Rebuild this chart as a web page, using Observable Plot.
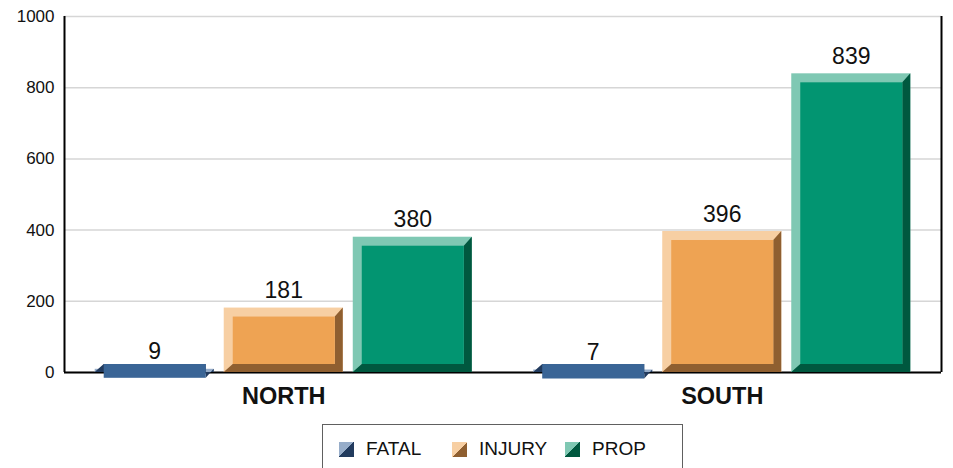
<!DOCTYPE html>
<html>
<head>
<meta charset="utf-8">
<script src="https://cdn.jsdelivr.net/npm/d3@7"></script>
<script src="https://cdn.jsdelivr.net/npm/@observablehq/plot@0.6"></script>
<style>
  html, body { margin: 0; padding: 0; background: #fff; }
  body { width: 953px; height: 468px; overflow: hidden; font-family: "Liberation Sans", Arial, sans-serif; }
  #legendWrap { display: flex; justify-content: center; padding-left: 64px; padding-right: 12px; margin-top: 6px; }
  .legend { border: 1px solid #606060; display: flex; padding: 13px 4px 14px 16px; }
  .item { width: 113px; display: flex; align-items: center; font-size: 19px; color: #111; }
  .sw { width: 15px; height: 15px; margin-right: 12px; flex: none; }
</style>
</head>
<body>
<div id="chart"></div>
<div id="legendWrap"><div class="legend" id="legend"></div></div>
<script>
// ---- data ----
const regions = ["NORTH", "SOUTH"];
const series = ["FATAL", "INJURY", "PROP"];
const fatal = [9, 7];
const injury = [181, 396];
const prop = [380, 839];
const yTicks = [0, 200, 400, 600, 800, 1000];
const faceColors = ["#3a6596", "#eea353", "#029571"];
const lightColors = ["#97adc9", "#f7cfa3", "#7fc8b3"];
const darkColors = ["#223b5e", "#8f5f30", "#00583f"];

const valuesBySeries = [fatal, injury, prop];
const sub = d3.scaleBand(series, [0, 1]).paddingInner(0.0775).paddingOuter(0.238);
const rows = [];
regions.forEach((r, i) => {
  series.forEach((s, j) => {
    const x1 = i + sub(s);
    rows.push({region: r, series: s, k: j, value: valuesBySeries[j][i], x1, x2: x1 + sub.bandwidth(), xm: x1 + sub.bandwidth() / 2});
  });
});

const BL = 9, BR = 8; // bevel sizes (px)
const bevel = (index, scales) => {
  const g = d3.create("svg:g");
  for (const d of rows) {
    const x0 = scales.x(d.x1), x1 = scales.x(d.x2);
    const yt = scales.y(d.value), yb = scales.y(0);
    const ix0 = x0 + BL, ix1 = x1 - BR, iyt = yt + BL, iyb = yb - BR;
    g.append("polygon")
      .attr("points", [[x1, yt], [x1, yb], [x0, yb], [ix0, iyb], [ix1, iyb], [ix1, iyt]].map(p => p.join(",")).join(" "))
      .attr("fill", darkColors[d.k]);
    g.append("rect")
      .attr("x", Math.min(ix0, ix1)).attr("width", Math.abs(ix1 - ix0))
      .attr("y", Math.min(iyt, iyb)).attr("height", Math.abs(iyb - iyt))
      .attr("fill", faceColors[d.k]);
  }
  return g.node();
};

const chart = Plot.plot({
  width: 953,
  height: 418,
  marginTop: 16,
  marginBottom: 46,
  marginLeft: 64,
  marginRight: 12,
  style: {fontFamily: "'Liberation Sans', Arial, sans-serif", color: "#111", background: "#fff"},
  x: {domain: [0, regions.length], axis: null},
  y: {domain: [0, 1000], axis: null},
  color: {type: "identity"},
  marks: [
    Plot.gridY(yTicks, {stroke: "#d6d6d6", strokeOpacity: 1, strokeWidth: 1.5}),
    Plot.ruleX([0, regions.length], {stroke: "#000", strokeWidth: 2}),
    Plot.ruleY([0], {stroke: "#000", strokeWidth: 2}),
    Plot.axisY({ticks: yTicks, tickSize: 0, tickPadding: 10, fontSize: 17, tickFormat: d3.format("d"), label: null}),
    Plot.axisX({ticks: regions.map((d, i) => i + 0.5), tickFormat: v => regions[Math.floor(v)], tickSize: 0, tickPadding: 15, fontSize: 23.5, fontWeight: "bold", label: null}),
    Plot.rectY(rows, {x1: "x1", x2: "x2", y: "value", fill: d => lightColors[d.k]}),
    bevel,
    Plot.text(rows, {x: "xm", y: "value", text: d => String(d.value), dy: -10, lineAnchor: "bottom", fontSize: 23, fill: "#111"})
  ]
});
document.getElementById("chart").appendChild(chart);

const legend = document.getElementById("legend");
series.forEach((s, j) => {
  const it = document.createElement("div");
  it.className = "item";
  const sw = document.createElement("span");
  sw.className = "sw";
  sw.style.background = `linear-gradient(to bottom right, ${lightColors[j]} 50%, ${darkColors[j]} 50%)`;
  const tx = document.createElement("span");
  tx.textContent = s;
  it.appendChild(sw);
  it.appendChild(tx);
  legend.appendChild(it);
});
</script>
</body>
</html>
